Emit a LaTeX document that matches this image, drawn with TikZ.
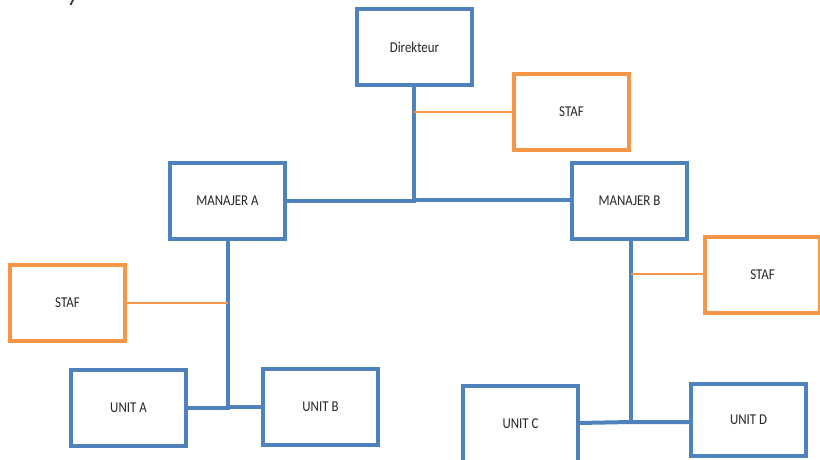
\documentclass[tikz,border=0pt]{standalone}
\usepackage{fontspec}
\setmainfont{Carlito}[FakeStretch=0.86]
\definecolor{orgblue}{HTML}{4F81BD}
\definecolor{orgorange}{HTML}{F79646}
\begin{document}
\begin{tikzpicture}[x=1pt,y=-1pt,
  unitbox/.style={draw=orgblue, line width=4pt, fill=white, minimum width=115pt,
    minimum height=76pt, inner sep=0pt, font=\fontsize{15}{15}\selectfont, text=black!85},
  stafbox/.style={unitbox, draw=orgorange},
  tree/.style={draw=orgblue, line width=4pt},
  staffline/.style={draw=orgorange, line width=2pt}]
\useasboundingbox (0,0) rectangle (820,459);
\clip (0,0) rectangle (820,459);

% tail of a letter from the line above, cut by the top edge
\draw[black!80, line width=1.6pt] (70.5,5) -- (73.5,-1);

% junctions of the tree lines
\coordinate (jD) at (414,200);
\coordinate (jA) at (228,407);
\coordinate (jB) at (631,422);

% connectors (drawn first, boxes cover their ends)
\draw[tree] (414,86) -- (jD);
\draw[tree] (285,201) -- (jD |- 0,201) -- (jD) -- (572,200);
\draw[staffline] (jD |- 0,112) -- (514,112);

\draw[tree] (228,238) -- (jA);
\draw[tree] (186,408) -- (jA |- 0,408) -- (jA) -- (263,407);
\draw[staffline] (jA |- 0,303) -- (126,303);

\draw[tree] (631,237) -- (jB);
\draw[tree] (578,423) -- (jB) -- (690,422);
\draw[staffline] (jB |- 0,274) -- (705,274);

% boxes
\node[unitbox] (dir) at (414.5,47) {Direkteur};
\node[stafbox] (staf1) at (571.5,112) {STAF};
\node[unitbox] (ma) at (227.5,201) {MANAJER A};
\node[unitbox] (mb) at (629.5,200.5) {MANAJER B};
\node[stafbox] (staf2) at (67.5,302.5) {STAF};
\node[stafbox] (staf3) at (762.5,275) {STAF};
\node[unitbox] (ua) at (128.5,407.5) {UNIT A};
\node[unitbox] (ub) at (320.5,406.5) {UNIT B};
\node[unitbox] (uc) at (520.5,424) {UNIT C};
\node[unitbox, minimum height=72pt] (ud) at (748.5,419.5) {UNIT D};
\end{tikzpicture}
\end{document}
